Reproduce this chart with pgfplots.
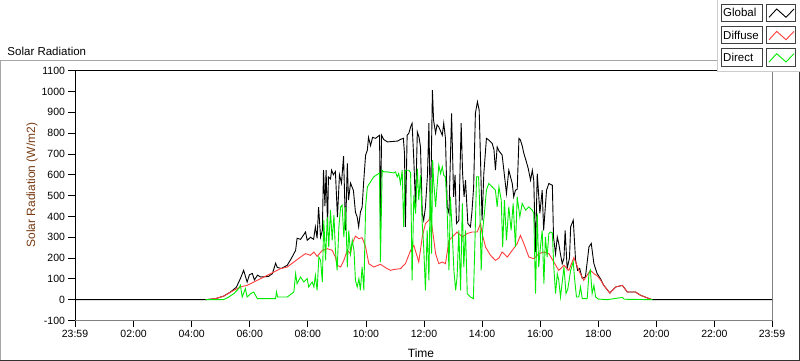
\documentclass[border=0pt]{standalone}
\usepackage{pgfplots}
\pgfplotsset{compat=1.18}
\usepackage{fontspec}
\setmainfont{Liberation Sans}
\definecolor{dred}{RGB}{255,60,60}
\definecolor{lgreen}{RGB}{0,235,0}
\definecolor{ylab}{RGB}{120,60,20}
\definecolor{frm}{RGB}{64,64,64}
\begin{document}
\begin{tikzpicture}
\useasboundingbox (0bp,0bp) rectangle (800bp,361bp);
\draw[gray!70, line width=1bp] (0.5bp,0.5bp) -- (0.5bp,300bp) -- (717bp,300bp);
\draw[black!80, line width=1bp] (0.5bp,0.5bp) -- (799.5bp,0.5bp) -- (799.5bp,289bp);
\begin{axis}[
  at={(75bp,40.5bp)}, anchor=south west,
  scale only axis, width=697bp, height=249.8bp,
  xmin=-0.0167, xmax=23.9833, ymin=-100, ymax=1100,
  xtick={-0.0167,2,4,6,8,10,12,14,16,18,20,22,23.9833},
  xticklabels={23:59,02:00,04:00,06:00,08:00,10:00,12:00,14:00,16:00,18:00,20:00,22:00,23:59},
  minor x tick num=7,
  ytick={-100,0,100,200,300,400,500,600,700,800,900,1000,1100},
  tick align=outside, tick pos=left,
  major tick length=6.5bp, minor tick length=3.5bp,
  tick style={black, line width=0.8bp},
  axis line style={draw=gray, line width=1bp},
  tick label style={font=\fontsize{10.5bp}{12bp}\selectfont},
  /pgf/number format/assume math mode=true,
  /pgf/number format/1000 sep={},
  xlabel={Time}, ylabel={Solar Radiation (W/m2)},
  every axis y label/.style={at={(axis description cs:-0.0617,0.5415)}, rotate=90, anchor=center, color=ylab, font=\fontsize{12bp}{14bp}\selectfont},
  every axis x label/.style={at={(axis description cs:0.4964,-0.1324)}, anchor=center, font=\fontsize{12bp}{14bp}\selectfont},
  title={Solar Radiation},
  every axis title/.style={at={(axis description cs:-0.1019,1.0628)}, anchor=base west, font=\fontsize{11.5bp}{13bp}\selectfont},
  clip=false,
]
\addplot[black, line width=0.9bp] coordinates {
(0,0) (4.48,0) (4.82,5) (5.10,17) (5.34,37) (5.54,60) (5.68,102) (5.79,141) (5.91,85) (5.99,120)
(6.09,126) (6.16,95) (6.27,118) (6.37,109) (6.51,110) (6.65,112) (6.78,125) (6.89,175) (6.95,155) (7.09,150)
(7.29,165) (7.44,200) (7.58,237) (7.63,295) (7.75,290) (7.85,310) (7.92,325) (7.98,285) (8.09,300) (8.20,290)
(8.26,350) (8.32,295) (8.37,445) (8.44,300) (8.50,333) (8.54,622) (8.59,450) (8.63,622) (8.68,350) (8.71,590)
(8.78,580) (8.82,622) (8.88,600) (8.95,615) (9.02,397) (9.09,600) (9.16,560) (9.23,690) (9.30,333) (9.36,655)
(9.40,478) (9.47,560) (9.57,525) (9.64,420) (9.70,397) (9.75,350) (9.81,420) (9.87,445) (9.92,560) (9.99,695)
(10.05,718) (10.09,780) (10.16,740) (10.23,780) (10.33,775) (10.47,790) (10.50,350) (10.54,790) (10.61,770) (10.74,758)
(10.92,760) (11.09,762) (11.19,770) (11.29,775) (11.33,700) (11.36,350) (11.42,790) (11.48,800) (11.54,830) (11.59,847)
(11.65,670) (11.71,445) (11.77,806) (11.83,780) (11.88,734) (11.94,415) (11.99,381) (12.05,445) (12.12,600) (12.17,848)
(12.22,381) (12.29,1007) (12.33,862) (12.40,800) (12.45,840) (12.51,830) (12.57,810) (12.63,790) (12.68,848) (12.74,775)
(12.80,445) (12.86,415) (12.95,895) (13.02,494) (13.07,600) (13.12,366) (13.20,381) (13.28,848) (13.33,605) (13.38,494)
(13.43,574) (13.51,366) (13.60,350) (13.65,420) (13.71,542) (13.77,895) (13.84,951) (13.90,911) (13.95,655) (14.00,381)
(14.06,605) (14.15,775) (14.23,767) (14.35,750) (14.41,720) (14.46,622) (14.52,734) (14.58,715) (14.69,695) (14.75,622)
(14.84,510) (14.92,622) (15.04,558) (15.09,494) (15.15,526) (15.21,530) (15.27,775) (15.32,767) (15.38,740) (15.44,702)
(15.51,670) (15.59,630) (15.67,574) (15.73,622) (15.78,574) (15.84,229) (15.90,606) (15.99,415) (16.07,526) (16.12,333)
(16.22,526) (16.30,558) (16.42,550) (16.46,301) (16.53,220) (16.59,301) (16.64,270) (16.70,218) (16.76,173) (16.82,200)
(16.86,333) (16.93,150) (17.01,200) (17.05,350) (17.14,382) (17.22,189) (17.29,141) (17.36,150) (17.45,102) (17.56,110)
(17.68,253) (17.76,270) (17.85,173) (17.96,126) (18.08,100) (18.19,69) (18.40,32) (18.60,61) (18.83,69) (19.00,37)
(19.28,37) (19.46,21) (19.74,6) (19.86,0) (23.9833,0)
};
\addplot[dred, line width=0.9bp] coordinates {
(4.48,0) (4.82,5) (5.10,17) (5.45,45) (5.68,61) (5.91,69) (6.14,85) (6.37,101) (6.60,117) (6.83,133)
(7.06,149) (7.29,157) (7.52,181) (7.75,205) (7.92,221) (8.09,213) (8.21,229) (8.32,208) (8.50,237) (8.67,245)
(8.84,237) (8.95,205) (9.01,165) (9.13,157) (9.24,189) (9.36,237) (9.47,221) (9.53,270) (9.64,305) (9.76,293)
(9.87,298) (9.99,253) (10.10,173) (10.27,157) (10.50,170) (10.73,149) (10.85,141) (10.96,145) (11.19,149) (11.36,173)
(11.54,237) (11.65,261) (11.77,205) (11.82,181) (11.94,301) (12.05,366) (12.17,382) (12.22,406) (12.31,318) (12.40,221)
(12.51,173) (12.63,181) (12.74,173) (12.86,285) (12.97,301) (13.14,325) (13.32,301) (13.49,318) (13.66,325) (13.83,325)
(13.95,366) (14.00,318) (14.12,253) (14.29,213) (14.46,189) (14.58,200) (14.69,229) (14.87,205) (15.04,237) (15.21,269)
(15.32,309) (15.44,269) (15.61,205) (15.78,197) (15.95,221) (16.13,229) (16.30,221) (16.47,181) (16.64,141) (16.82,165)
(16.99,141) (17.16,202) (17.33,141) (17.50,93) (17.73,141) (17.85,125) (17.96,115) (18.08,95) (18.19,69) (18.40,32)
(18.60,61) (18.83,69) (19.00,37) (19.28,37) (19.46,21) (19.74,6) (19.86,0)
};
\addplot[lgreen, line width=0.9bp] coordinates {
(4.48,0) (5.10,0) (5.28,13) (5.45,29) (5.62,53) (5.68,69) (5.74,13) (5.85,53) (5.91,13) (6.03,29)
(6.14,37) (6.26,5) (6.89,5) (6.92,37) (6.96,13) (7.29,13) (7.52,37) (7.58,125) (7.63,77) (7.75,109)
(7.86,85) (7.98,101) (8.03,61) (8.15,85) (8.21,61) (8.26,117) (8.32,45) (8.38,205) (8.44,189) (8.50,85)
(8.55,382) (8.61,189) (8.67,398) (8.72,253) (8.78,430) (8.84,285) (8.90,406) (8.95,237) (9.01,141) (9.07,350)
(9.13,446) (9.18,454) (9.24,301) (9.30,446) (9.36,157) (9.41,333) (9.47,221) (9.53,285) (9.59,237) (9.64,93)
(9.70,61) (9.76,101) (9.81,45) (9.87,157) (9.93,45) (9.99,446) (10.05,542) (10.16,566) (10.27,590) (10.47,609)
(10.50,181) (10.56,622) (10.61,614) (10.73,614) (10.96,609) (11.02,614) (11.08,590) (11.13,606) (11.19,558) (11.25,622)
(11.30,350) (11.36,622) (11.48,622) (11.54,610) (11.59,93) (11.65,502) (11.71,414) (11.77,630) (11.82,478) (11.88,598)
(11.94,366) (11.99,253) (12.05,45) (12.11,333) (12.17,93) (12.22,574) (12.26,221) (12.30,670) (12.33,574) (12.40,446)
(12.45,542) (12.51,646) (12.57,606) (12.63,638) (12.68,598) (12.74,590) (12.80,414) (12.86,141) (12.91,494) (12.97,333)
(13.03,141) (13.09,45) (13.14,109) (13.20,333) (13.26,45) (13.32,462) (13.37,157) (13.43,333) (13.49,29) (13.60,13)
(13.70,5) (13.75,253) (13.81,590) (13.88,590) (13.92,446) (13.97,141) (14.02,333) (14.08,414) (14.15,526) (14.23,558)
(14.35,542) (14.46,526) (14.52,446) (14.58,542) (14.66,478) (14.71,253) (14.77,478) (14.84,285) (14.92,446) (15.00,333)
(15.07,462) (15.15,253) (15.21,494) (15.30,398) (15.38,462) (15.50,430) (15.61,446) (15.73,430) (15.78,414) (15.84,29)
(15.90,414) (15.95,157) (16.01,253) (16.07,333) (16.13,77) (16.18,301) (16.24,205) (16.30,318) (16.36,325) (16.42,320)
(16.47,157) (16.53,29) (16.59,125) (16.64,93) (16.70,13) (16.82,157) (16.89,29) (16.95,50) (17.05,141) (17.14,181)
(17.18,109) (17.25,13) (17.33,13) (17.39,61) (17.45,5) (17.62,5) (17.68,125) (17.73,141) (17.79,29) (17.85,69)
(17.91,13) (18.00,3) (18.31,0) (18.83,11) (18.90,2) (19.86,0)
};
\end{axis}
\draw[black, line width=1bp] (75bp,40.5bp) -- (75bp,290.3bp) -- (772bp,290.3bp);
\fill[white] (717bp,289.3bp) rectangle (800bp,361bp);
\draw[gray!40, line width=1bp] (717.5bp,361bp) -- (717.5bp,289.8bp) -- (800bp,289.8bp);
\foreach \yy/\tt/\cc in {348.2/Global/black, 325.8/Diffuse/dred, 303.5/Direct/lgreen}{
  \draw[frm, line width=1bp] (721bp,\yy bp-8.75bp) rectangle (762.7bp,\yy bp+8.75bp);
  \node[anchor=west, inner sep=0pt, font=\fontsize{11.5bp}{13bp}\selectfont] at (723bp,\yy bp) {\tt};
  \draw[frm, line width=1bp] (766.7bp,\yy bp-8.75bp) rectangle (795.7bp,\yy bp+8.75bp);
  \draw[\cc, line width=0.9bp] (769bp,\yy bp-4.5bp) -- (776.7bp,\yy bp+3.8bp) -- (786bp,\yy bp-4.5bp) -- (794bp,\yy bp+3.8bp);
}
\end{tikzpicture}
\end{document}
